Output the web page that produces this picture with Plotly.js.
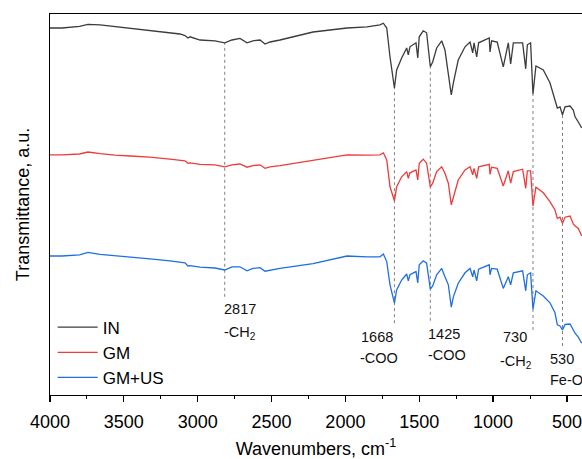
<!DOCTYPE html>
<html>
<head>
<meta charset="utf-8">
<script src="https://cdn.plot.ly/plotly-3.0.1.min.js"></script>
<style>html,body{margin:0;padding:0;background:#fff;}#chart{width:582px;height:459px;}</style>
</head>
<body>
<div id="chart"></div>
<script>
// Wavenumbers, cm-1
var wavenumbers = [4000,3919,3800,3743,3661,3560,3458,3323,3188,3120,3086,3066,3052,2984,2883,2817,2768,2714,2666,2626,2578,2544,2510,2443,2219,1989,1854,1766,1743,1720,1698,1668,1653,1619,1585,1574,1563,1522,1510,1500,1473,1450,1425,1409,1382,1348,1326,1303,1283,1269,1236,1190,1156,1138,1129,1111,1098,1026,1021,1010,972,931,897,881,863,800,779,768,746,730,710,660,615,581,565,547,530,513,479,457,445,423,400];

// Transmittance (a.u., stacked)
var inValues = [93.0,93.0,93.4,93.9,93.8,93.4,93.0,92.3,91.8,91.5,91.1,90.5,90.8,90.0,89.8,89.3,90.0,90.4,89.3,89.8,90.0,89.0,89.5,90.0,92.0,93.0,93.3,93.8,94.2,93.0,85.8,78.0,82.5,85.5,88.0,86.3,88.3,89.3,85.5,90.8,92.3,91.8,83.3,84.5,88.0,89.8,87.5,81.8,76.3,79.3,85.0,88.3,89.5,86.8,89.3,85.8,89.3,90.5,87.0,89.8,89.5,83.3,89.3,84.0,89.3,89.3,82.8,88.8,89.3,76.5,83.5,82.5,79.3,75.0,73.0,73.3,71.3,73.3,73.5,72.5,70.8,69.5,68.0];

var gmValues = [61.3,61.3,61.5,62.0,61.6,61.2,61.0,60.7,60.2,60.0,59.8,59.2,59.3,58.9,58.8,58.3,58.8,59.0,58.2,58.6,58.8,57.9,58.3,58.6,59.9,61.3,61.2,61.3,61.8,60.0,53.3,49.8,53.3,55.8,57.1,55.4,56.8,57.5,55.0,59.2,60.2,59.2,53.3,54.2,57.1,58.3,56.7,54.2,48.8,50.8,55.0,57.5,58.3,56.3,57.9,55.4,58.3,58.9,56.4,58.2,57.9,53.5,57.3,54.2,57.1,57.7,52.9,57.3,57.3,48.5,53.2,51.8,49.6,47.5,45.4,45.7,44.2,45.7,46.0,44.0,43.5,42.9,41.0];

var gmusValues = [36.0,36.0,36.3,36.9,36.4,36.1,35.8,35.3,34.8,34.5,34.3,33.5,33.6,33.2,33.0,32.5,33.3,33.3,32.3,32.9,33.1,32.2,32.5,32.9,34.1,36.0,35.8,35.8,36.5,34.6,28.8,24.2,27.5,30.0,31.5,29.8,31.3,32.1,29.3,33.8,34.8,34.2,27.7,28.5,31.3,32.9,30.8,28.8,23.2,25.8,29.2,31.8,32.9,30.8,32.5,29.8,32.7,33.8,31.3,32.9,32.7,27.9,30.8,28.8,31.8,32.3,27.3,31.3,31.8,22.7,27.3,26.0,24.3,21.8,18.8,18.5,17.5,18.9,19.0,17.3,16.7,15.7,14.2];

var seriesNames = ["IN", "GM", "GM+US"];

// Marked bands
var bandPositions = [2817, 1668, 1425, 730, 530];
var bandNumbers = ["2817", "1668", "1425", "730", "530"];
var bandGroups = ["-CH<sub>2</sub>", "-COO", "-COO", "-CH<sub>2</sub>", "Fe-O"];
var bandTop = [89.3, 78.0, 83.3, 76.5, 71.3];
var bandBottom = [25.8, 19.2, 19.8, 17.5, 13.5];
var bandLabelY = [22.7, 15.8, 16.5, 15.7, 10.3];
var bandGroupY = [16.8, 10.4, 11.3, 9.6, 5.0];
var bandAnchor = ["left", "right", "left", "right", "left"];
var bandShift = [-3, 1, -4, -4, -15];

var colors = ["#3c3c3c", "#ee3b3b", "#1f6fe3"];
var ys = [inValues, gmValues, gmusValues];

var traces = ys.map(function (v, i) {
  return {
    x: wavenumbers, y: v, type: "scatter", mode: "lines", name: seriesNames[i],
    line: {color: colors[i], width: 1.3}
  };
});

var shapes = bandPositions.map(function (w, i) {
  return {type: "line", xref: "x", yref: "y", x0: w, x1: w, y0: bandBottom[i], y1: bandTop[i],
    line: {color: "#808080", width: 1, dash: "dot"}, layer: "below"};
});

var annotations = [];
bandPositions.forEach(function (w, i) {
  annotations.push({x: w, y: bandLabelY[i], xref: "x", yref: "y", text: bandNumbers[i], showarrow: false,
    xanchor: bandAnchor[i], xshift: bandShift[i], yanchor: "middle", font: {size: 14.5, color: "#111"}});
  annotations.push({x: w, y: bandGroupY[i], xref: "x", yref: "y", text: bandGroups[i], showarrow: false,
    xanchor: bandAnchor[i], xshift: bandShift[i] + (bandAnchor[i] === "right" ? 5 : 0), yanchor: "middle", font: {size: 14.5, color: "#111"}});
});

var layout = {
  width: 582, height: 459,
  margin: {l: 50, r: 0, t: 14, b: 64},
  paper_bgcolor: "#fff", plot_bgcolor: "#fff",
  font: {family: "Liberation Sans, Arial, sans-serif", color: "#000"},
  showlegend: true,
  legend: {x: 0.005, y: 0.224, xanchor: "left", yanchor: "top", bgcolor: "rgba(0,0,0,0)",
    font: {size: 17}, itemwidth: 40, tracegroupgap: 0},
  xaxis: {
    range: [4000, 398], autorange: false, automargin: true,
    showgrid: false, zeroline: false,
    showline: true, linecolor: "#000", linewidth: 1.3, mirror: true,
    ticks: "outside", ticklen: 6, tickwidth: 1.2, tickcolor: "#000",
    tick0: 0, dtick: 500, ticklabelstandoff: 4,
    minor: {ticks: "outside", ticklen: 3, dtick: 250, tick0: 0, tickcolor: "#000", tickwidth: 1},
    tickfont: {size: 18},
    title: {text: "Wavenumbers, cm<sup>-1</sup>", font: {size: 18}, standoff: 11}
  },
  yaxis: {
    range: [1.25, 96.5], autorange: false,
    showgrid: false, zeroline: false,
    showline: true, linecolor: "#000", linewidth: 1.3,
    ticks: "", showticklabels: false,
    title: {text: "Transmittance, a.u.", font: {size: 18}, standoff: 14}
  },
  shapes: shapes,
  annotations: annotations
};

Plotly.newPlot("chart", traces, layout, {displayModeBar: false, staticPlot: true});
</script>
</body>
</html>
